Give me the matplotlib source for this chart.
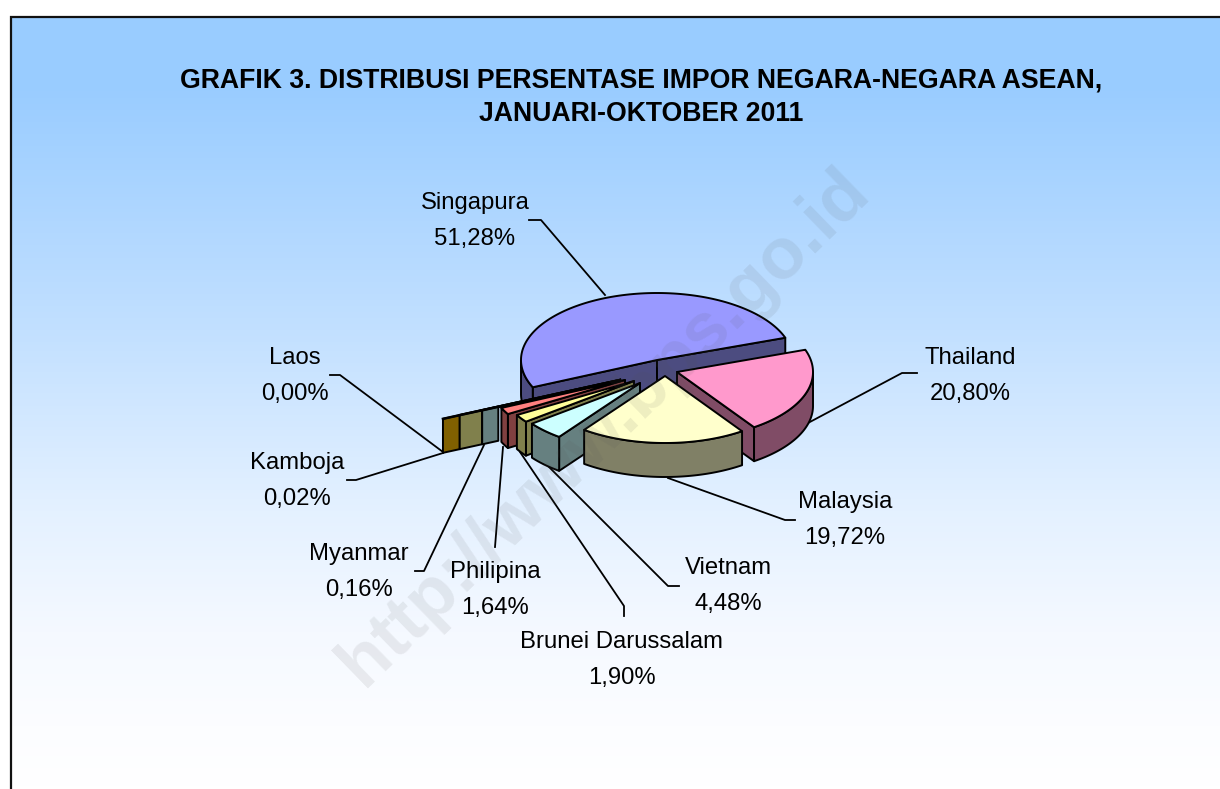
import numpy as np
import matplotlib
matplotlib.use("Agg")
import matplotlib.pyplot as plt
from matplotlib.colors import LinearSegmentedColormap
from matplotlib.patches import Polygon

categories = ["Singapura", "Thailand", "Malaysia", "Vietnam", "Brunei Darussalam",
              "Philipina", "Myanmar", "Kamboja", "Laos"]
values = [51.28, 20.80, 19.72, 4.48, 1.90, 1.64, 0.16, 0.02, 0.00]
title = "GRAFIK 3. DISTRIBUSI PERSENTASE IMPOR NEGARA-NEGARA ASEAN,\nJANUARI-OKTOBER 2011"
watermark = "http://www.bps.go.id"

top_colors = ["#9999FF", "#FF99CC", "#FFFFCC", "#CCFFFF", "#FFFF99",
              "#FF8080", "#6B8A8A", "#80804C", "#806000"]
wall_colors = ["#4C4C80", "#804C66", "#808066", "#668080", "#80804C",
               "#804040", "#668080", "#80804C", "#806000"]

# explosion: where each slice's apex sits, in pixels
apex_x = [657, 677, 665, 640, 634, 625, 620, 620, 620]
apex_y = [360, 372, 376, 383, 381, 380, 380, 380, 380]
# radial extent of the wall of the near-zero slices
wall_span = {"Myanmar": (0.98, 1.11), "Kamboja": (1.11, 1.29), "Laos": (1.29, 1.425)}

RX, RY, DEPTH = 136, 67, 34
START = 204.0

label_xy = {"Singapura": (475, 221), "Thailand": (970, 376), "Malaysia": (845, 520),
            "Vietnam": (728, 586), "Brunei Darussalam": (622, 660), "Philipina": (495, 590),
            "Myanmar": (359, 572), "Kamboja": (297, 481), "Laos": (295, 376)}
leaders = {"Singapura": [(529, 220), (541, 220), (605, 295)],
           "Thailand": [(917, 373), (902, 373), (808, 423)],
           "Malaysia": [(795, 520), (785, 520), (668, 478)],
           "Vietnam": [(679, 586), (668, 586), (548, 466)],
           "Brunei Darussalam": [(624, 616), (624, 606), (520, 452)],
           "Philipina": [(495, 547), (503, 447)],
           "Myanmar": [(415, 571), (424, 571), (484, 445)],
           "Kamboja": [(347, 480), (356, 480), (443, 453)],
           "Laos": [(330, 375), (340, 375), (443, 452)]}

W, H = 1220, 789
fig = plt.figure(figsize=(W / 100, H / 100), dpi=100, facecolor="white")
ax = fig.add_axes([0, 0, 1, 1])
ax.set_xlim(0, W)
ax.set_ylim(H, 0)
ax.axis("off")

# background
cmap = LinearSegmentedColormap.from_list("bg", [(0, "#99CCFF"), (0.09, "#99CCFF"), (0.42, "#C4E1FF"),
                                                (0.64, "#E4F1FF"), (0.8, "#F5F9FF"),
                                                (0.92, "#FCFDFF"), (1, "#FFFFFF")])
grad = np.linspace(0, 1, 256).reshape(-1, 1)
ax.imshow(grad, cmap=cmap, extent=(10, W, H, 16), aspect="auto", zorder=0)
ax.set_xlim(0, W)
ax.set_ylim(H, 0)
ax.plot([10.5, 10.5, W], [H, 16.5, 16.5], color="#111111", lw=1.6, zorder=1, solid_joinstyle="miter")

# leaders
for pts in leaders.values():
    xs, ys = zip(*pts)
    ax.plot(xs, ys, color="black", lw=1.3, zorder=2)

# slice angles from values
shares = np.array(values) / sum(values) * 360
ends = START - np.cumsum(shares)
starts = ends + shares


def pt(i, theta, r=1.0, drop=0.0):
    t = np.deg2rad(theta)
    return (apex_x[i] + r * RX * np.cos(t), apex_y[i] - r * RY * np.sin(t) + drop)


def poly(points, color, z):
    ax.add_patch(Polygon(points, closed=True, facecolor=color, edgecolor="black",
                         lw=1.4, joinstyle="round", zorder=z))


def draw_slice(i, z):
    name = categories[i]
    a0, a1 = starts[i], ends[i]
    if name in wall_span:
        r0, r1 = wall_span[name]
        poly([pt(i, a1, r0), pt(i, a1, r1), pt(i, a1, r1, DEPTH), pt(i, a1, r0, DEPTH)], wall_colors[i], z)
        ax.plot(*zip(pt(i, a1, r1), pt(i, a0, 0)), color="black", lw=1.8, zorder=z + 0.2)
        return
    apex = pt(i, a0, 0)
    apex_low = pt(i, a0, 0, DEPTH)
    # a cut face shows only where it turns towards the viewer
    if np.cos(np.deg2rad(a0)) < 0:
        poly([apex, pt(i, a0), pt(i, a0, 1, DEPTH), apex_low], wall_colors[i], z)
    if np.cos(np.deg2rad(a1)) > 0:
        poly([apex, pt(i, a1), pt(i, a1, 1, DEPTH), apex_low], wall_colors[i], z)
    arc = np.linspace(a0, a1, 120)
    front = arc[((arc % 360) >= 180)]
    if len(front) > 1:
        poly([pt(i, a) for a in front] + [pt(i, a, 1, DEPTH) for a in front[::-1]], wall_colors[i], z + 0.1)
    poly([apex] + [pt(i, a) for a in arc], top_colors[i], z + 0.2)


order = [0, 1, 8, 7, 6, 5, 4, 3, 2]
for n, idx in enumerate(order):
    draw_slice(idx, 3 + n)

# labels
font = "Liberation Sans"
for name, v in zip(categories, values):
    x, y = label_xy[name]
    ax.text(x, y, f"{name}\n{v:.2f}%".replace(".", ","), ha="center", va="center", ma="center",
            fontsize=17.2, family=font, color="black", linespacing=1.85, zorder=20)

ax.text(641, 97.5, title, ha="center", va="center", ma="center", fontsize=19.2, fontweight="bold",
        family=font, color="black", linespacing=1.38, zorder=20)

ax.text(604, 428, watermark, ha="center", va="center", rotation=44.2, rotation_mode="anchor",
        fontsize=52, fontweight="bold", family=font, color="#555555", alpha=0.1, zorder=15)

fig.savefig("out.png", dpi=100, facecolor="white")
